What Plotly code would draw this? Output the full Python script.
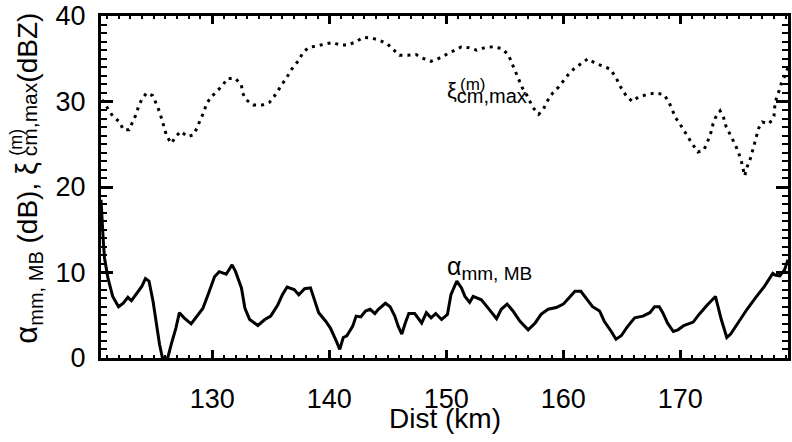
import plotly.graph_objects as go

# ---- data ----
dist_xi = [120.6, 121.1, 121.5, 122.1, 122.4, 122.9, 123.2, 123.5, 123.7, 124.0, 124.4, 124.9,
           125.2, 125.5, 125.7, 125.9, 126.1, 126.5, 126.9, 127.3, 127.9, 128.4, 128.7, 129.0,
           129.3, 129.5, 129.9, 130.4, 130.9, 131.3, 132.0, 132.5, 132.6, 132.9, 133.5, 134.3,
           134.9, 135.3, 135.7, 136.1, 136.5, 136.9, 137.4, 137.7, 138.2, 138.9, 139.6, 140.3,
           140.9, 141.6, 142.3, 142.9, 143.7, 144.4, 145.0, 145.5, 146.0, 146.7, 147.4, 148.1,
           148.7, 149.3, 149.9, 150.6, 151.3, 151.9, 152.6, 153.3, 154.0, 154.7, 155.3, 155.6,
           155.9, 156.2, 156.5, 156.9, 157.4, 157.9, 158.3, 158.7, 159.1, 159.6, 160.0, 160.4,
           160.9, 161.4, 162.1, 162.7, 163.3, 164.0, 164.5, 164.9, 165.4, 165.9, 166.4, 167.1,
           167.9, 168.6, 169.0, 169.3, 169.6, 170.0, 170.4, 170.9, 171.5, 172.0, 172.3, 172.6,
           172.8, 173.0, 173.4, 173.7, 173.9, 174.3, 174.6, 174.9, 175.2, 175.5, 175.7, 176.0,
           176.2, 176.5, 176.7, 177.0, 177.6, 178.0, 178.1, 178.4, 178.6, 179.0, 179.2]
xi_max = [30.2, 29.2, 28.3, 27.6, 26.7, 26.7, 27.6, 28.5, 29.4, 30.3, 31.0, 30.7,
          29.8, 28.8, 27.9, 26.9, 26.0, 25.1, 25.9, 26.5, 25.9, 26.1, 26.9, 27.9,
          28.8, 29.7, 30.5, 31.2, 31.9, 32.7, 32.7, 31.9, 31.0, 30.2, 29.6, 29.6,
          29.9, 30.6, 31.4, 32.2, 33.1, 34.0, 34.8, 35.6, 36.3, 36.5, 36.7, 36.9,
          36.6, 36.6, 37.0, 37.5, 37.4, 37.1, 36.7, 36.0, 35.4, 35.4, 35.5, 35.0,
          34.7, 35.0, 35.4, 35.9, 36.4, 36.3, 36.0, 36.3, 36.4, 36.2, 35.5, 34.5,
          33.6, 32.6, 31.6, 30.7, 29.3, 28.5, 29.1, 30.2, 31.0, 31.7, 32.4, 33.1,
          33.8, 34.3, 35.0, 34.5, 34.2, 33.8, 32.8, 31.7, 30.6, 30.0, 30.5, 30.8,
          31.0, 30.8, 30.0, 29.0, 28.1, 27.3, 26.4, 25.3, 24.1, 24.3, 25.2, 26.3,
          27.4, 28.1, 28.9, 28.1, 27.1, 26.1, 25.2, 24.3, 23.1, 21.3, 22.3, 23.4,
          24.5, 25.8, 26.9, 27.6, 27.4, 28.3, 29.9, 31.1, 32.0, 33.2, 34.0]

dist_alpha = [120.5, 120.6, 120.7, 120.8, 121.1, 121.5, 122.0, 122.4, 122.8, 123.1, 123.5, 124.0,
              124.3, 124.6, 124.95, 125.2, 125.5, 125.75, 126.2, 126.5, 126.9, 127.2, 127.6, 128.2,
              128.6, 129.2, 129.7, 130.2, 130.6, 131.2, 131.7, 132.0, 132.5, 132.8, 133.2, 133.9,
              134.5, 135.0, 135.6, 136.0, 136.4, 137.0, 137.4, 137.9, 138.4, 138.8, 139.1, 139.7,
              140.1, 140.6, 140.9, 141.2, 141.5, 142.0, 142.3, 142.7, 143.1, 143.5, 143.9, 144.2,
              144.8, 145.2, 145.6, 145.9, 146.2, 146.5, 146.8, 147.3, 147.9, 148.3, 148.7, 149.1,
              149.6, 150.1, 150.4, 150.9, 151.3, 151.6, 152.0, 152.3, 153.0, 153.6, 154.3, 154.7,
              155.2, 155.7, 156.3, 157.0, 157.6, 158.1, 158.7, 159.4, 160.0, 160.4, 161.0, 161.5,
              162.0, 162.5, 163.1, 163.5, 164.1, 164.5, 164.95, 165.5, 166.1, 166.8, 167.4, 167.8,
              168.2, 168.5, 168.9, 169.4, 169.8, 170.3, 171.1, 171.6, 172.3, 173.0, 173.5, 173.97,
              174.3, 175.0, 175.7, 176.4, 177.2, 177.9, 178.1, 178.5, 178.9, 179.2]
alpha_mb = [18.5, 15.5, 13.6, 11.7, 9.3, 7.2, 6.0, 6.4, 7.1, 6.7, 7.4, 8.4,
            9.3, 9.0, 6.6, 4.3, 1.6, 0.0, 0.0, 1.6, 3.5, 5.3, 4.7, 4.0,
            4.7, 5.8, 7.6, 9.5, 10.1, 9.8, 10.9, 10.1, 8.2, 5.8, 4.5, 3.8,
            4.5, 4.9, 6.2, 7.4, 8.3, 8.0, 7.4, 8.1, 8.2, 6.6, 5.3, 4.3,
            3.5, 2.0, 1.0, 2.4, 2.6, 3.7, 4.9, 4.8, 5.5, 5.7, 5.2, 5.7,
            6.4, 6.0, 4.9, 3.7, 2.8, 4.1, 5.2, 5.2, 4.1, 5.3, 4.7, 5.2,
            4.5, 5.1, 7.4, 9.0, 8.2, 7.2, 6.5, 7.2, 6.8, 5.8, 4.6, 5.7,
            6.3, 5.5, 4.3, 3.3, 4.1, 5.1, 5.7, 5.9, 6.3, 6.9, 7.8, 7.8,
            6.9, 6.0, 5.5, 4.3, 3.1, 2.2, 2.6, 3.7, 4.7, 4.9, 5.3, 6.0,
            6.0, 5.3, 4.1, 3.1, 3.3, 3.8, 4.2, 5.1, 6.2, 7.2, 4.5, 2.4,
            2.8, 4.3, 5.7, 7.0, 8.4, 9.9, 9.7, 9.6, 10.3, 11.5]

x_ticks = [130, 140, 150, 160, 170]
y_ticks = [0, 10, 20, 30, 40]

FONT = "Liberation Sans, Arial, Helvetica, sans-serif"

fig = go.Figure()
fig.add_trace(go.Scatter(x=dist_xi, y=xi_max, mode="lines",
                         line=dict(color="black", width=3, dash="3px,5px"),
                         showlegend=False, hoverinfo="skip"))
fig.add_trace(go.Scatter(x=dist_alpha, y=alpha_mb, mode="lines",
                         line=dict(color="black", width=3),
                         showlegend=False, hoverinfo="skip"))

axis_common = dict(showgrid=False, zeroline=False, showline=True, linecolor="black",
                   linewidth=3, mirror="allticks", ticks="inside", tickcolor="black",
                   ticklabeloverflow="allow",
                   tickfont=dict(family=FONT, size=27, color="black"))

fig.update_xaxes(range=[120.5, 179.2], tickvals=x_ticks, ticklen=8, tickwidth=2.5,
                 minor=dict(dtick=1, tick0=120, ticklen=3, tickwidth=2, ticks="inside",
                            tickcolor="black", showgrid=False),
                 ticklabelstandoff=15,
                 **axis_common)
fig.update_yaxes(range=[0, 40], tickvals=y_ticks, ticklen=12, tickwidth=2.5,
                 minor=dict(dtick=1, tick0=0, ticklen=6, tickwidth=2, ticks="inside",
                            tickcolor="black", showgrid=False),
                 ticklabelstandoff=7,
                 **axis_common)

ann = []
# x-axis title
ann.append(dict(xref="paper", yref="paper", x=0.5, y=-0.178, xanchor="center", yanchor="middle",
                showarrow=False, text="Dist (km)",
                font=dict(family=FONT, size=28, color="black")))
# y-axis title (rotated)
ann.append(dict(xref="paper", yref="paper", x=-0.106, y=0.525, xanchor="center", yanchor="middle",
                textangle=-90, showarrow=False,
                text='<span style="font-size:31px">α</span><sub><span style="font-size:20px">mm, MB</span></sub> (dB), '
                     '<span style="font-size:29px">ξ</span><span style="font-size:21px"> cm,max</span>(dBZ)',
                font=dict(family=FONT, size=28, color="black")))
ann.append(dict(xref="paper", yref="paper", x=-0.124, y=0.632, xanchor="center", yanchor="middle",
                textangle=-90, showarrow=False, text="(m)",
                font=dict(family=FONT, size=18, color="black")))
# in-plot labels
ann.append(dict(xref="paper", yref="paper", x=0.50, y=0.777, xanchor="left", yanchor="middle",
                showarrow=False,
                text='ξ<sub><span style="font-size:20px">cm,max</span></sub>',
                font=dict(family=FONT, size=22, color="black")))
ann.append(dict(xref="paper", yref="paper", x=0.52, y=0.80, xanchor="left", yanchor="middle",
                showarrow=False, text="(m)",
                font=dict(family=FONT, size=17, color="black")))
ann.append(dict(xref="paper", yref="paper", x=0.5014, y=0.264, xanchor="left", yanchor="middle",
                showarrow=False,
                text='α<sub><span style="font-size:19px">mm, MB</span></sub>',
                font=dict(family=FONT, size=25, color="black")))

fig.update_layout(width=792, height=442, margin=dict(l=101, r=1, t=13, b=84),
                  paper_bgcolor="white", plot_bgcolor="white",
                  font=dict(family=FONT, color="black"), annotations=ann)

fig.write_html("out.html")
